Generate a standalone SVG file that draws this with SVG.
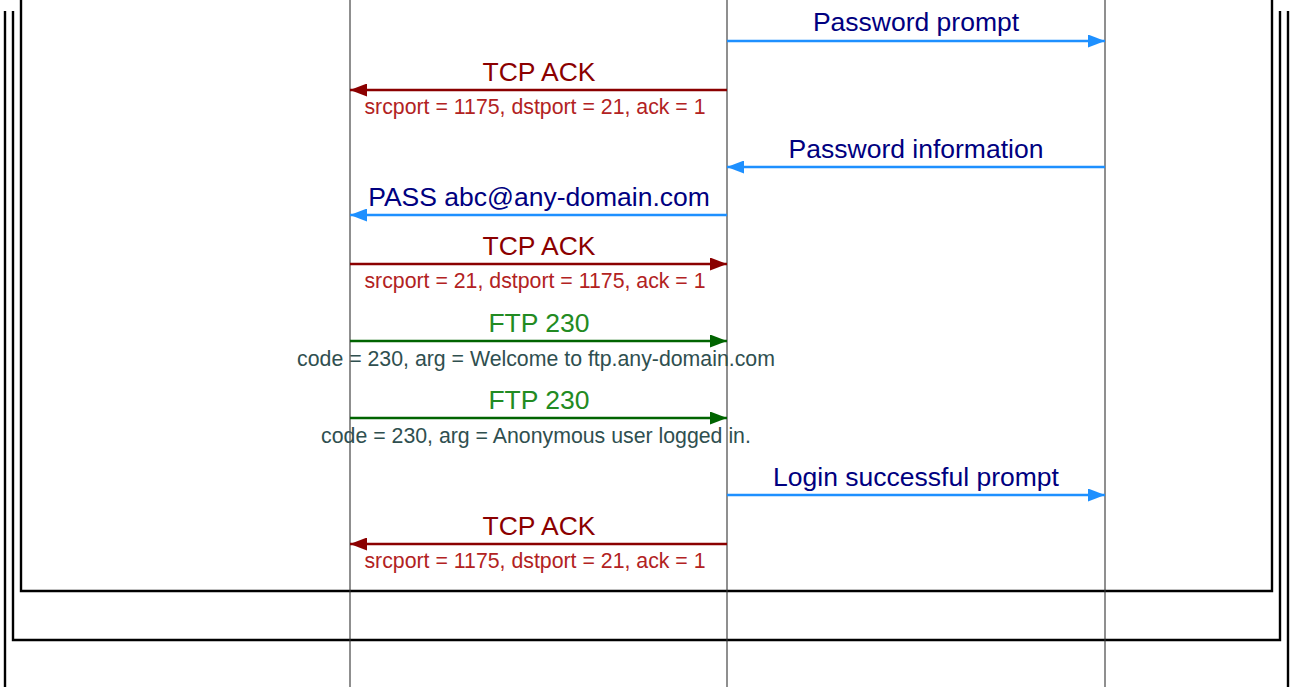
<svg xmlns="http://www.w3.org/2000/svg" width="1290" height="687" viewBox="0 0 1290 687">
<style>
.frame{fill:none;stroke:#000;stroke-width:2.4}
.life{stroke:#333;stroke-width:1.1}
.lbl{font-family:"Liberation Sans",Arial,sans-serif;font-size:26.5px;text-anchor:middle}
.sub{font-family:"Liberation Sans",Arial,sans-serif;font-size:21.3px;text-anchor:middle}
.blue{stroke:#1e90ff;stroke-width:2.5;fill:none}
.red{stroke:#8b0000;stroke-width:2.5;fill:none}
.green{stroke:#006400;stroke-width:2.5;fill:none}
.tnavy{fill:#000080}
.tred{fill:#8b0000}
.tfire{fill:#b22222}
.tgreen{fill:#228b22}
.tslate{fill:#2f4f4f}
</style>
<defs>
<marker id="ab" markerWidth="17" markerHeight="13" refX="17" refY="6.5" orient="auto" markerUnits="userSpaceOnUse"><path d="M0,0 L17,6.5 L0,13 Z" fill="#1e90ff"/></marker>
<marker id="ar" markerWidth="17" markerHeight="13" refX="17" refY="6.5" orient="auto" markerUnits="userSpaceOnUse"><path d="M0,0 L17,6.5 L0,13 Z" fill="#8b0000"/></marker>
<marker id="ag" markerWidth="17" markerHeight="13" refX="17" refY="6.5" orient="auto" markerUnits="userSpaceOnUse"><path d="M0,0 L17,6.5 L0,13 Z" fill="#006400"/></marker>
</defs>
<rect width="1290" height="687" fill="#fff"/>
<g id="frames">
<path class="frame" d="M5,11 V687 M1288,11 V687"/>
<path class="frame" d="M13,11 V640 H1280 V11"/>
<path class="frame" d="M21,0 V591 H1272 V0"/>
</g>
<g id="lifelines">
<line id="lifeline-1" class="life" x1="350" y1="0" x2="350" y2="687"/>
<line id="lifeline-2" class="life" x1="727" y1="0" x2="727" y2="687"/>
<line id="lifeline-3" class="life" x1="1105" y1="0" x2="1105" y2="687"/>
</g>
<g id="connectors">
<line class="blue" x1="727" y1="41" x2="1105" y2="41" marker-end="url(#ab)"/>
<line class="red" x1="727" y1="90" x2="350" y2="90" marker-end="url(#ar)"/>
<line class="blue" x1="1105" y1="167" x2="727" y2="167" marker-end="url(#ab)"/>
<line class="blue" x1="727" y1="215" x2="350" y2="215" marker-end="url(#ab)"/>
<line class="red" x1="350" y1="264" x2="727" y2="264" marker-end="url(#ar)"/>
<line class="green" x1="350" y1="341" x2="727" y2="341" marker-end="url(#ag)"/>
<line class="green" x1="350" y1="418" x2="727" y2="418" marker-end="url(#ag)"/>
<line class="blue" x1="727" y1="495" x2="1105" y2="495" marker-end="url(#ab)"/>
<line class="red" x1="727" y1="544" x2="350" y2="544" marker-end="url(#ar)"/>
</g>
<g id="labels">
<text class="lbl tnavy" x="916" y="31">Password prompt</text>
<text class="lbl tred" x="539" y="81">TCP ACK</text>
<text class="sub tfire" x="535" y="114">srcport = 1175, dstport = 21, ack = 1</text>
<text class="lbl tnavy" x="916" y="158">Password information</text>
<text class="lbl tnavy" x="539" y="206">PASS abc@any-domain.com</text>
<text class="lbl tred" x="539" y="255">TCP ACK</text>
<text class="sub tfire" x="535" y="288">srcport = 21, dstport = 1175, ack = 1</text>
<text class="lbl tgreen" x="539" y="332">FTP 230</text>
<text class="sub tslate" x="536" y="366">code = 230, arg = Welcome to ftp.any-domain.com</text>
<text class="lbl tgreen" x="539" y="409">FTP 230</text>
<text class="sub tslate" x="536" y="443">code = 230, arg = Anonymous user logged in.</text>
<text class="lbl tnavy" x="916" y="486">Login successful prompt</text>
<text class="lbl tred" x="539" y="535">TCP ACK</text>
<text class="sub tfire" x="535" y="568">srcport = 1175, dstport = 21, ack = 1</text>
</g>
</svg>
